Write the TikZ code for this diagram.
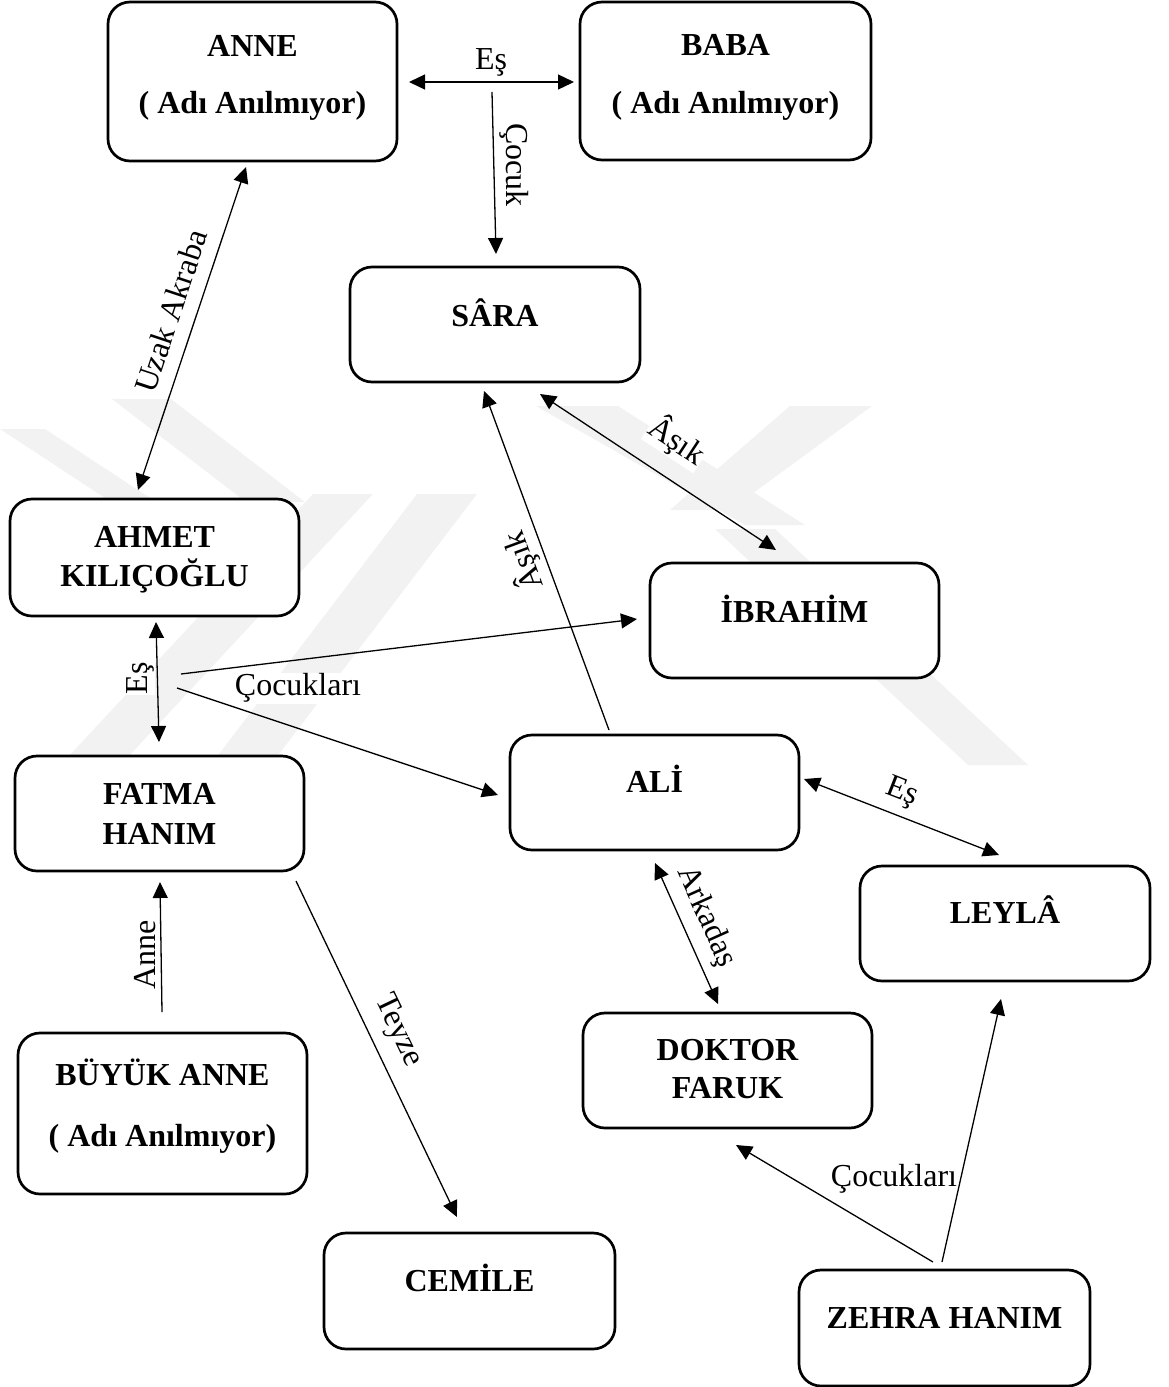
\documentclass[tikz,border=0pt]{standalone}
\usepackage{fontspec}
\setmainfont{Liberation Serif}
\usetikzlibrary{arrows.meta}
\begin{document}
\begin{tikzpicture}[x=1pt,y=-1pt,
  box/.style={draw, fill=white, line width=2.7pt, rounded corners=22pt, inner sep=0pt},
  ttl/.style={anchor=base, align=center, inner sep=0pt, font=\fontsize{32}{38}\selectfont\bfseries},
  lbl/.style={inner sep=1pt, fill=white, font=\fontsize{32}{36}\selectfont},
  con/.style={line width=1.3pt},
  one/.style={con, -{Triangle[length=16pt,width=15pt]}},
  two/.style={con, {Triangle[length=16pt,width=15pt]}-{Triangle[length=16pt,width=15pt]}},
  wm/.style={fill=black!5, draw=none},
]
\useasboundingbox (0,0) rectangle (1168,1387);

% faint watermark
\fill[wm] (0,429) -- (45,429) -- (179,517) -- (134,517) -- cycle;
\fill[wm] (112,399) -- (171,399) -- (305,502) -- (246,502) -- cycle;
\fill[wm] (67,758) -- (127,758) -- (373,494) -- (313,494) -- cycle;
\fill[wm] (216,758) -- (276,758) -- (477,494) -- (417,494) -- cycle;
\fill[wm] (536,406) -- (618,406) -- (805,525) -- (745,525) -- cycle;
\fill[wm] (790,406) -- (872,406) -- (730,510) -- (670,510) -- cycle;
\fill[wm] (715,529) -- (775,529) -- (1028,765) -- (968,765) -- cycle;

% boxes
\node[box, minimum width=289pt, minimum height=159pt] (anne) at (252.5,81.5) {};
\node[box, minimum width=291pt, minimum height=158pt] (baba) at (725.5,81) {};
\node[box, minimum width=290pt, minimum height=115pt] (sara) at (495,324.5) {};
\node[box, minimum width=289pt, minimum height=117pt] (ahmet) at (154.5,557.5) {};
\node[box, minimum width=289pt, minimum height=115pt] (ibrahim) at (794.5,620.5) {};
\node[box, minimum width=289pt, minimum height=115pt] (fatma) at (159.5,813.5) {};
\node[box, minimum width=289pt, minimum height=115pt] (ali) at (654.5,792.5) {};
\node[box, minimum width=290pt, minimum height=115pt] (leyla) at (1005,923.5) {};
\node[box, minimum width=289pt, minimum height=115pt] (doktor) at (727.5,1070.5) {};
\node[box, minimum width=289pt, minimum height=161pt] (buyuk) at (162.5,1113.5) {};
\node[box, minimum width=291pt, minimum height=116pt] (cemile) at (469.5,1291) {};
\node[box, minimum width=291pt, minimum height=116pt] (zehra) at (944.5,1328) {};

% box texts (anchor=base is the baseline of the last line)
\node[ttl] (anneT) at (252.5,113) {ANNE\\[19pt]( Adı Anılmıyor)};
\node[ttl] (babaT) at (725.5,113) {BABA\\[20pt]( Adı Anılmıyor)};
\node[ttl] (saraT) at (495,326) {SÂRA};
\node[ttl] (ahmetT) at (154.5,586) {AHMET\\[1pt]KILIÇOĞLU};
\node[ttl] (ibrahimT) at (794.5,622) {İBRAHİM};
\node[ttl] (fatmaT) at (159.5,844) {FATMA\\[2pt]HANIM};
\node[ttl] (aliT) at (654.5,792) {ALİ};
\node[ttl] (leylaT) at (1005,923) {LEYLÂ};
\node[ttl] (doktorT) at (727.5,1098) {DOKTOR\\FARUK};
\node[ttl] (buyukT) at (162.5,1146) {BÜYÜK ANNE\\[23pt]( Adı Anılmıyor)};
\node[ttl] (cemileT) at (469.5,1291) {CEMİLE};
\node[ttl] (zehraT) at (944.5,1328) {ZEHRA HANIM};

% connector end points
\coordinate (e1a) at (409,82);   \coordinate (e1b) at (574,82);
\coordinate (c1a) at (492,92);   \coordinate (c1b) at (496,254);
\coordinate (u1a) at (246,167);  \coordinate (u1b) at (138,490);
\coordinate (e2a) at (156,622);  \coordinate (e2b) at (159,742);
\coordinate (k1a) at (181,674);  \coordinate (k1b) at (637,619);
\coordinate (k2a) at (177,688);  \coordinate (k2b) at (498,795);
\coordinate (s1a) at (540,394);  \coordinate (s1b) at (776,550);
\coordinate (s2a) at (609,730);  \coordinate (s2b) at (484,391);
\coordinate (e3a) at (804,779);  \coordinate (e3b) at (999,855);
\coordinate (r1a) at (655,863);  \coordinate (r1b) at (718,1004);
\coordinate (n1a) at (162,1012); \coordinate (n1b) at (160,882);
\coordinate (t1a) at (296,881);  \coordinate (t1b) at (457,1217);
\coordinate (z1a) at (933,1262); \coordinate (z1b) at (736,1145);
\coordinate (z2a) at (942,1262); \coordinate (z2b) at (1001,999);

% labels
\node[lbl] (lEs1) at (491,62) {Eş};
\node[lbl, rotate=-90] (lCocuk) at (514,165) {Çocuk};
\node[lbl, rotate=71.6] (lUzak) at (171,311) {Uzak Akraba};
\node[lbl, rotate=90] (lEs2) at (140,678) {Eş};
\node[lbl] (lCoc1) at (298,688) {Çocukları};
\node[lbl, rotate=-33.4] (lAsik1) at (677,441) {Âşık};
\node[lbl, rotate=110.2] (lAsik2) at (523,561) {Âşık};
\node[lbl, rotate=-21.4] (lEs3) at (902,793) {Eş};
\node[lbl, rotate=-65.8] (lArk) at (706,917) {Arkadaş};
\node[lbl, rotate=90] (lAnne) at (145,955) {Anne};
\node[lbl, rotate=-64.4] (lTeyze) at (398,1031) {Teyze};
\node[lbl] (lCoc2) at (894,1179) {Çocukları};

% connectors
\draw[two] (e1a) -- (e1b);
\draw[one] (c1a) -- (c1b);
\draw[two] (u1a) -- (u1b);
\draw[two] (e2a) -- (e2b);
\draw[one] (k1a) -- (k1b);
\draw[one] (k2a) -- (k2b);
\draw[two] (s1a) -- (s1b);
\draw[one] (s2a) -- (s2b);
\draw[two] (e3a) -- (e3b);
\draw[two] (r1a) -- (r1b);
\draw[one] (n1a) -- (n1b);
\draw[one] (t1a) -- (t1b);
\draw[one] (z1a) -- (z1b);
\draw[one] (z2a) -- (z2b);
\end{tikzpicture}
\end{document}
